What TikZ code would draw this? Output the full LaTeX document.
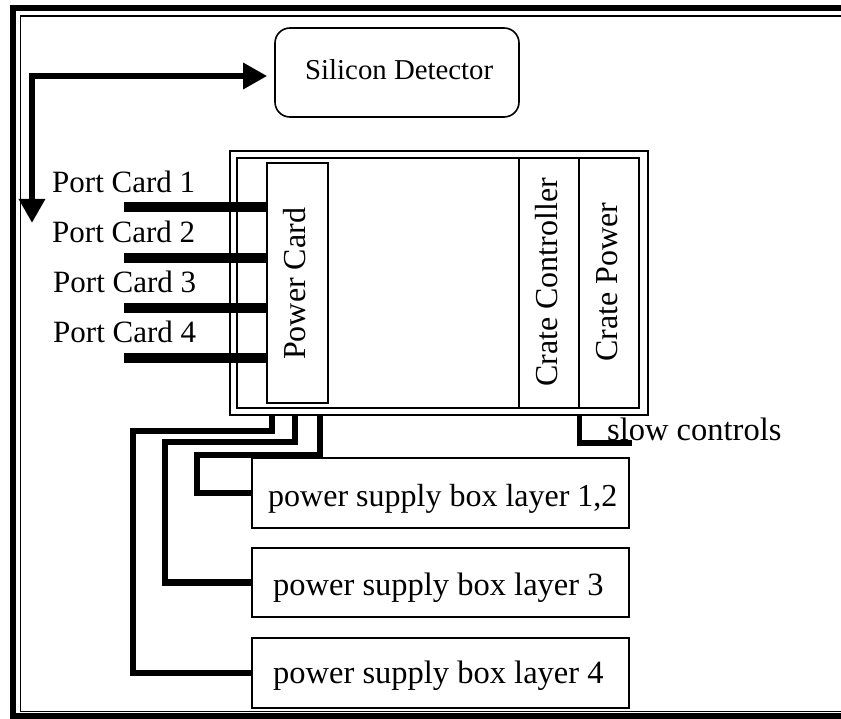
\documentclass[tikz,border=0pt]{standalone}
\usepackage{fontspec}
\setmainfont{Liberation Serif}
\usetikzlibrary{arrows.meta,calc}
\begin{document}
\begin{tikzpicture}[x=1pt,y=-1pt,
  txt/.style={font=\fontsize{31}{31}\selectfont, inner sep=0pt},
  bigtxt/.style={font=\fontsize{32.5}{32.5}\selectfont, inner sep=0pt},
  boxthin/.style={draw=black, line width=1.6pt, inner sep=0pt},
  wire/.style={draw=black, line width=6.5pt, line join=miter},
  pcline/.style={draw=black, line width=10pt},
  bigarrow/.style={draw=black, line width=6.5pt, line join=miter,
    {Triangle[length=24pt,width=25pt]}-{Triangle[length=24pt,width=25pt]}}
]
\useasboundingbox (0,0) rectangle (841,719);
\clip (0,0) rectangle (841,719);
\fill[white] (0,0) rectangle (841,719);

% outer frame (runs off the right side)
\draw[line width=6pt] (13,8.5) rectangle (880,716);
\draw[line width=1.5pt] (20.5,16) rectangle (880,711.5);

% silicon detector
\node[boxthin, rounded corners=15pt, minimum width=244pt, minimum height=89pt] (det) at (397,72.5) {};
\node[txt, font=\fontsize{28.8}{28.8}\selectfont, anchor=base west] (tdet) at (305,80) {Silicon Detector};

% crate
\node[boxthin, minimum width=418pt, minimum height=264pt] (crate) at (439,283) {};
\node[boxthin, minimum width=402pt, minimum height=250pt] (crin) at (438,283) {};
\node[boxthin, minimum width=61pt, minimum height=240pt] (pcard) at (297.5,283) {};
\node[boxthin, minimum width=60pt, minimum height=250pt] (cc) at (549,283) {};
\node[boxthin, minimum width=60pt, minimum height=250pt] (cp) at (609,283) {};
\node[txt, font=\fontsize{32}{32}\selectfont, rotate=90, anchor=base west] (tpcard) at (305,360) {Power Card};
\node[txt, font=\fontsize{32}{32}\selectfont, rotate=90, anchor=base west] (tcc) at (557,387) {Crate Controller};
\node[txt, font=\fontsize{32}{32}\selectfont, rotate=90, anchor=base west] (tcp) at (617,362) {Crate Power};

% port cards
\node[txt, anchor=base west] (l1) at (52,193) {Port Card 1};
\node[txt, anchor=base west] (l2) at (52,243) {Port Card 2};
\node[txt, anchor=base west] (l3) at (53,293) {Port Card 3};
\node[txt, anchor=base west] (l4) at (53,343) {Port Card 4};
\coordinate (pc1) at (124,207);
\coordinate (pc2) at (124,258);
\coordinate (pc3) at (124,308);
\coordinate (pc4) at (124,358);
\draw[pcline] (pc1) -- (pcard.west |- pc1);
\draw[pcline] (pc2) -- (pcard.west |- pc2);
\draw[pcline] (pc3) -- (pcard.west |- pc3);
\draw[pcline] (pc4) -- (pcard.west |- pc4);

% bidirectional arrow
\coordinate (adn) at (32,223);
\draw[bigarrow] (adn) |- ($(det.west)+(-7,3.5)$);

% power supply boxes
\node[boxthin, minimum width=377pt, minimum height=70pt] (ps1) at (440.5,493) {};
\node[boxthin, minimum width=377pt, minimum height=69pt] (ps2) at (440.5,582.5) {};
\node[boxthin, minimum width=377pt, minimum height=70pt] (ps3) at (440.5,673) {};
\node[bigtxt, font=\fontsize{32}{32}\selectfont, anchor=base west] (tps1) at (268,506) {power supply box layer 1,2};
\node[bigtxt, anchor=base west] (tps2) at (273,595) {power supply box layer 3};
\node[bigtxt, anchor=base west] (tps3) at (273,683) {power supply box layer 4};

% power wires
\coordinate (wa) at (272,415);
\coordinate (wb) at (295,415);
\coordinate (wc) at (320,415);
\draw[wire] (wa) |- (133,431) |- (ps3.west);
\draw[wire] (wb) |- (165,442) |- (ps2.west);
\draw[wire] (wc) |- (197,455) |- (ps1.west);

% slow controls
\coordinate (sc0) at (579.5,415);
\coordinate (sc1) at (632,443);
\draw[draw=black, line width=5.5pt, line join=miter] (sc0) |- (sc1);
\node[bigtxt, anchor=base west] (tsc) at (607,440) {slow controls};
\end{tikzpicture}
\end{document}
